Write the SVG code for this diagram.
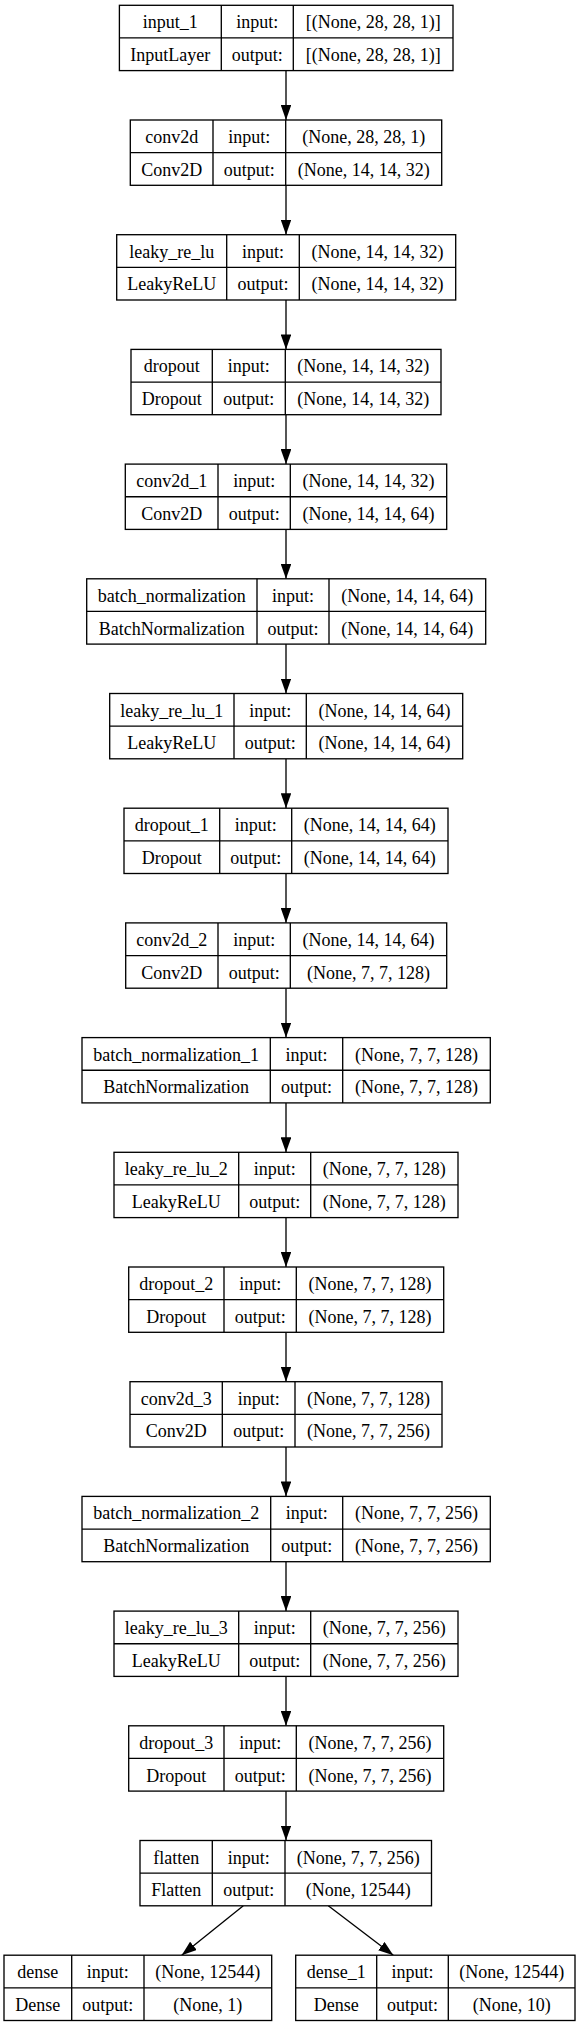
<svg xmlns="http://www.w3.org/2000/svg" width="581" height="2027" viewBox="0 0 581 2027">
<style>
.b{fill:#fff;stroke:#000;stroke-width:1.33}
.l{stroke:#000;stroke-width:1.33;fill:none}
text{font-family:"Liberation Serif","Times New Roman",serif;font-size:18px;fill:#000;text-anchor:middle}
.e{stroke:#000;stroke-width:1.33;fill:none;marker-end:url(#ah)}
</style>
<defs>
<marker id="ah" viewBox="0 0 15 10.6" refX="15" refY="5.3" markerWidth="15" markerHeight="10.6" markerUnits="userSpaceOnUse" orient="auto">
<path d="M0,0 L15,5.3 L0,10.6 z" fill="#000"/>
</marker>
</defs>
<rect width="581" height="2027" fill="#fff"/>
<g id="connectors">
<line class="e" x1="286" y1="70.6" x2="286" y2="120.0"/>
<line class="e" x1="286" y1="185.3" x2="286" y2="234.7"/>
<line class="e" x1="286" y1="300.0" x2="286" y2="349.4"/>
<line class="e" x1="286" y1="414.7" x2="286" y2="464.1"/>
<line class="e" x1="286" y1="529.4" x2="286" y2="578.8"/>
<line class="e" x1="286" y1="644.1" x2="286" y2="693.5"/>
<line class="e" x1="286" y1="758.8" x2="286" y2="808.2"/>
<line class="e" x1="286" y1="873.5" x2="286" y2="922.9"/>
<line class="e" x1="286" y1="988.2" x2="286" y2="1037.6"/>
<line class="e" x1="286" y1="1102.9" x2="286" y2="1152.3"/>
<line class="e" x1="286" y1="1217.6" x2="286" y2="1267.0"/>
<line class="e" x1="286" y1="1332.3" x2="286" y2="1381.7"/>
<line class="e" x1="286" y1="1447.0" x2="286" y2="1496.4"/>
<line class="e" x1="286" y1="1561.7" x2="286" y2="1611.1"/>
<line class="e" x1="286" y1="1676.4" x2="286" y2="1725.8"/>
<line class="e" x1="286" y1="1791.1" x2="286" y2="1840.5"/>
<line class="e" x1="243.3" y1="1905.8" x2="181.7" y2="1955.2"/>
<line class="e" x1="328.3" y1="1905.8" x2="393.3" y2="1955.2"/>
</g>
<g id="input_1" transform="translate(0,5.3)">
<rect class="b" x="119.4" y="0" width="333.6" height="65.3"/>
<path class="l" d="M119.4,32.65H453M221.3,0V65.3M293.3,0V65.3"/>
<text x="170.35" y="23.1">input_1</text><text x="257.3" y="23.1">input:</text><text x="373.15" y="23.1">[(None, 28, 28, 1)]</text>
<text x="170.35" y="55.8">InputLayer</text><text x="257.3" y="55.8">output:</text><text x="373.15" y="55.8">[(None, 28, 28, 1)]</text>
</g>
<g id="conv2d" transform="translate(0,120.0)">
<rect class="b" x="130.3" y="0" width="311.4" height="65.3"/>
<path class="l" d="M130.3,32.65H441.7M213,0V65.3M285.7,0V65.3"/>
<text x="171.65" y="23.1">conv2d</text><text x="249.35" y="23.1">input:</text><text x="363.7" y="23.1">(None, 28, 28, 1)</text>
<text x="171.65" y="55.8">Conv2D</text><text x="249.35" y="55.8">output:</text><text x="363.7" y="55.8">(None, 14, 14, 32)</text>
</g>
<g id="leaky_re_lu" transform="translate(0,234.7)">
<rect class="b" x="116.7" y="0" width="339" height="65.3"/>
<path class="l" d="M116.7,32.65H455.7M226.7,0V65.3M299.3,0V65.3"/>
<text x="171.7" y="23.1">leaky_re_lu</text><text x="263" y="23.1">input:</text><text x="377.5" y="23.1">(None, 14, 14, 32)</text>
<text x="171.7" y="55.8">LeakyReLU</text><text x="263" y="55.8">output:</text><text x="377.5" y="55.8">(None, 14, 14, 32)</text>
</g>
<g id="dropout" transform="translate(0,349.4)">
<rect class="b" x="131" y="0" width="310" height="65.3"/>
<path class="l" d="M131,32.65H441M212.3,0V65.3M285.3,0V65.3"/>
<text x="171.65" y="23.1">dropout</text><text x="248.8" y="23.1">input:</text><text x="363.15" y="23.1">(None, 14, 14, 32)</text>
<text x="171.65" y="55.8">Dropout</text><text x="248.8" y="55.8">output:</text><text x="363.15" y="55.8">(None, 14, 14, 32)</text>
</g>
<g id="conv2d_1" transform="translate(0,464.1)">
<rect class="b" x="125.3" y="0" width="321.4" height="65.3"/>
<path class="l" d="M125.3,32.65H446.7M218,0V65.3M290.3,0V65.3"/>
<text x="171.65" y="23.1">conv2d_1</text><text x="254.15" y="23.1">input:</text><text x="368.5" y="23.1">(None, 14, 14, 32)</text>
<text x="171.65" y="55.8">Conv2D</text><text x="254.15" y="55.8">output:</text><text x="368.5" y="55.8">(None, 14, 14, 64)</text>
</g>
<g id="batch_normalization" transform="translate(0,578.8)">
<rect class="b" x="86.7" y="0" width="399" height="65.3"/>
<path class="l" d="M86.7,32.65H485.7M257,0V65.3M329,0V65.3"/>
<text x="171.85" y="23.1">batch_normalization</text><text x="293" y="23.1">input:</text><text x="407.35" y="23.1">(None, 14, 14, 64)</text>
<text x="171.85" y="55.8">BatchNormalization</text><text x="293" y="55.8">output:</text><text x="407.35" y="55.8">(None, 14, 14, 64)</text>
</g>
<g id="leaky_re_lu_1" transform="translate(0,693.5)">
<rect class="b" x="109.7" y="0" width="353" height="65.3"/>
<path class="l" d="M109.7,32.65H462.7M234,0V65.3M306.3,0V65.3"/>
<text x="171.85" y="23.1">leaky_re_lu_1</text><text x="270.15" y="23.1">input:</text><text x="384.5" y="23.1">(None, 14, 14, 64)</text>
<text x="171.85" y="55.8">LeakyReLU</text><text x="270.15" y="55.8">output:</text><text x="384.5" y="55.8">(None, 14, 14, 64)</text>
</g>
<g id="dropout_1" transform="translate(0,808.2)">
<rect class="b" x="124" y="0" width="324" height="65.3"/>
<path class="l" d="M124,32.65H448M219.7,0V65.3M291.7,0V65.3"/>
<text x="171.85" y="23.1">dropout_1</text><text x="255.7" y="23.1">input:</text><text x="369.85" y="23.1">(None, 14, 14, 64)</text>
<text x="171.85" y="55.8">Dropout</text><text x="255.7" y="55.8">output:</text><text x="369.85" y="55.8">(None, 14, 14, 64)</text>
</g>
<g id="conv2d_2" transform="translate(0,922.9)">
<rect class="b" x="125.7" y="0" width="321" height="65.3"/>
<path class="l" d="M125.7,32.65H446.7M218,0V65.3M290.3,0V65.3"/>
<text x="171.85" y="23.1">conv2d_2</text><text x="254.15" y="23.1">input:</text><text x="368.5" y="23.1">(None, 14, 14, 64)</text>
<text x="171.85" y="55.8">Conv2D</text><text x="254.15" y="55.8">output:</text><text x="368.5" y="55.8">(None, 7, 7, 128)</text>
</g>
<g id="batch_normalization_1" transform="translate(0,1037.6)">
<rect class="b" x="82" y="0" width="408.3" height="65.3"/>
<path class="l" d="M82,32.65H490.3M270.3,0V65.3M342.7,0V65.3"/>
<text x="176.15" y="23.1">batch_normalization_1</text><text x="306.5" y="23.1">input:</text><text x="416.5" y="23.1">(None, 7, 7, 128)</text>
<text x="176.15" y="55.8">BatchNormalization</text><text x="306.5" y="55.8">output:</text><text x="416.5" y="55.8">(None, 7, 7, 128)</text>
</g>
<g id="leaky_re_lu_2" transform="translate(0,1152.3)">
<rect class="b" x="114" y="0" width="344" height="65.3"/>
<path class="l" d="M114,32.65H458M238.7,0V65.3M310.7,0V65.3"/>
<text x="176.35" y="23.1">leaky_re_lu_2</text><text x="274.7" y="23.1">input:</text><text x="384.35" y="23.1">(None, 7, 7, 128)</text>
<text x="176.35" y="55.8">LeakyReLU</text><text x="274.7" y="55.8">output:</text><text x="384.35" y="55.8">(None, 7, 7, 128)</text>
</g>
<g id="dropout_2" transform="translate(0,1267.0)">
<rect class="b" x="128.7" y="0" width="315" height="65.3"/>
<path class="l" d="M128.7,32.65H443.7M224,0V65.3M296.3,0V65.3"/>
<text x="176.35" y="23.1">dropout_2</text><text x="260.15" y="23.1">input:</text><text x="370" y="23.1">(None, 7, 7, 128)</text>
<text x="176.35" y="55.8">Dropout</text><text x="260.15" y="55.8">output:</text><text x="370" y="55.8">(None, 7, 7, 128)</text>
</g>
<g id="conv2d_3" transform="translate(0,1381.7)">
<rect class="b" x="130" y="0" width="312" height="65.3"/>
<path class="l" d="M130,32.65H442M222.3,0V65.3M295,0V65.3"/>
<text x="176.15" y="23.1">conv2d_3</text><text x="258.65" y="23.1">input:</text><text x="368.5" y="23.1">(None, 7, 7, 128)</text>
<text x="176.15" y="55.8">Conv2D</text><text x="258.65" y="55.8">output:</text><text x="368.5" y="55.8">(None, 7, 7, 256)</text>
</g>
<g id="batch_normalization_2" transform="translate(0,1496.4)">
<rect class="b" x="82" y="0" width="408.3" height="65.3"/>
<path class="l" d="M82,32.65H490.3M270.7,0V65.3M342.7,0V65.3"/>
<text x="176.35" y="23.1">batch_normalization_2</text><text x="306.7" y="23.1">input:</text><text x="416.5" y="23.1">(None, 7, 7, 256)</text>
<text x="176.35" y="55.8">BatchNormalization</text><text x="306.7" y="55.8">output:</text><text x="416.5" y="55.8">(None, 7, 7, 256)</text>
</g>
<g id="leaky_re_lu_3" transform="translate(0,1611.1)">
<rect class="b" x="114" y="0" width="344" height="65.3"/>
<path class="l" d="M114,32.65H458M238.7,0V65.3M310.7,0V65.3"/>
<text x="176.35" y="23.1">leaky_re_lu_3</text><text x="274.7" y="23.1">input:</text><text x="384.35" y="23.1">(None, 7, 7, 256)</text>
<text x="176.35" y="55.8">LeakyReLU</text><text x="274.7" y="55.8">output:</text><text x="384.35" y="55.8">(None, 7, 7, 256)</text>
</g>
<g id="dropout_3" transform="translate(0,1725.8)">
<rect class="b" x="128.7" y="0" width="315" height="65.3"/>
<path class="l" d="M128.7,32.65H443.7M224,0V65.3M296.3,0V65.3"/>
<text x="176.35" y="23.1">dropout_3</text><text x="260.15" y="23.1">input:</text><text x="370" y="23.1">(None, 7, 7, 256)</text>
<text x="176.35" y="55.8">Dropout</text><text x="260.15" y="55.8">output:</text><text x="370" y="55.8">(None, 7, 7, 256)</text>
</g>
<g id="flatten" transform="translate(0,1840.5)">
<rect class="b" x="140" y="0" width="291.5" height="65.3"/>
<path class="l" d="M140,32.65H431.5M212.3,0V65.3M285,0V65.3"/>
<text x="176.15" y="23.1">flatten</text><text x="248.65" y="23.1">input:</text><text x="358.25" y="23.1">(None, 7, 7, 256)</text>
<text x="176.15" y="55.8">Flatten</text><text x="248.65" y="55.8">output:</text><text x="358.25" y="55.8">(None, 12544)</text>
</g>
<g id="dense" transform="translate(0,1955.2)">
<rect class="b" x="4" y="0" width="267.7" height="65.3"/>
<path class="l" d="M4,32.65H271.7M71.7,0V65.3M144,0V65.3"/>
<text x="37.85" y="23.1">dense</text><text x="107.85" y="23.1">input:</text><text x="207.85" y="23.1">(None, 12544)</text>
<text x="37.85" y="55.8">Dense</text><text x="107.85" y="55.8">output:</text><text x="207.85" y="55.8">(None, 1)</text>
</g>
<g id="dense_1" transform="translate(0,1955.2)">
<rect class="b" x="295.7" y="0" width="279.3" height="65.3"/>
<path class="l" d="M295.7,32.65H575M376.7,0V65.3M448.3,0V65.3"/>
<text x="336.2" y="23.1">dense_1</text><text x="412.5" y="23.1">input:</text><text x="511.65" y="23.1">(None, 12544)</text>
<text x="336.2" y="55.8">Dense</text><text x="412.5" y="55.8">output:</text><text x="511.65" y="55.8">(None, 10)</text>
</g>
</svg>
